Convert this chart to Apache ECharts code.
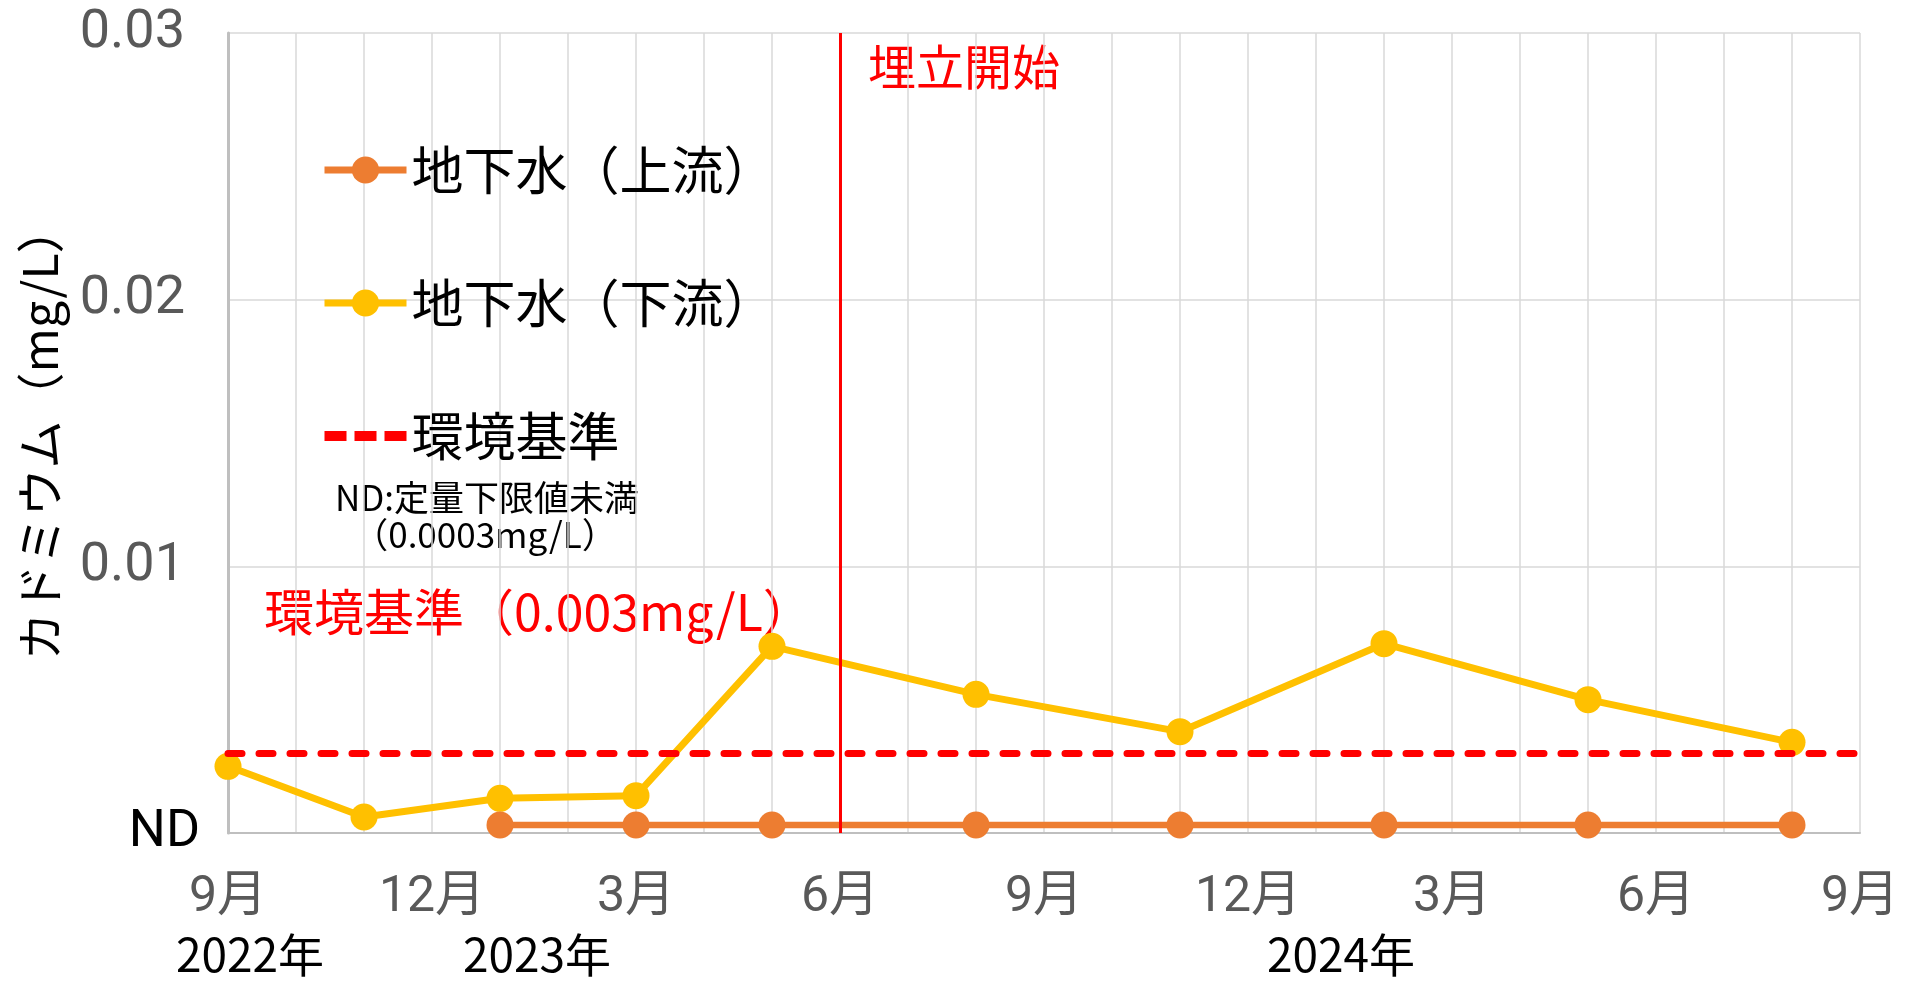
<!DOCTYPE html>
<html>
<head>
<meta charset="utf-8">
<script src="https://cdn.jsdelivr.net/npm/echarts@6/dist/echarts.min.js"></script>
<style>
  html, body { margin: 0; padding: 0; background: #fff; }
  #chart { width: 1912px; height: 984px; }
</style>
</head>
<body>
<div id="chart"></div>
<script>
// 月（2022年9月〜2024年9月）
const months = [
  '2022-09', '2022-10', '2022-11', '2022-12',
  '2023-01', '2023-02', '2023-03', '2023-04', '2023-05', '2023-06',
  '2023-07', '2023-08', '2023-09', '2023-10', '2023-11', '2023-12',
  '2024-01', '2024-02', '2024-03', '2024-04', '2024-05', '2024-06',
  '2024-07', '2024-08', '2024-09'
];

// 地下水（上流）: ND (0.0003)
const upstreamDates = ['2023-01', '2023-03', '2023-05', '2023-08', '2023-11', '2024-02', '2024-05', '2024-08'];
const upstreamValues = [0.0003, 0.0003, 0.0003, 0.0003, 0.0003, 0.0003, 0.0003, 0.0003];

// 地下水（下流）
const downstreamDates = ['2022-09', '2022-11', '2023-01', '2023-03', '2023-05', '2023-08', '2023-11', '2024-02', '2024-05', '2024-08'];
const downstreamValues = [0.0025, 0.0006, 0.0013, 0.0014, 0.0070, 0.0052, 0.0038, 0.0071, 0.0050, 0.0034];

const standardValue = 0.003;      // 環境基準
const landfillStart = '2023-06';  // 埋立開始
const yTicks = [0, 0.01, 0.02, 0.03];

const years = ['2022年', '2023年', '2024年'];

const jp = 'Noto Sans CJK JP';
const narrow = "Roboto, 'Noto Sans CJK JP'";
const dashLine = { color: '#ff0000', width: 7, type: [14, 17], cap: 'round' };

function pairs(dates, values) {
  return dates.map((d, i) => [d, values[i]]);
}

function note(text, x, y, size, color, align) {
  return {
    type: 'text', x: x, y: y,
    style: {
      text: text, fill: color, font: size + 'px "Noto Sans CJK JP"',
      textAlign: align, align: align, textVerticalAlign: 'middle', verticalAlign: 'middle'
    }
  };
}

const option = {
  animation: false,
  backgroundColor: '#fff',
  grid: { left: 228, top: 33, right: 52, bottom: 151, containLabel: false, outerBoundsMode: 'none' },
  legend: {
    orient: 'vertical',
    left: 316,
    top: 139,
    itemWidth: 82,
    itemHeight: 34,
    itemGap: 81,
    selectedMode: false,
    lineStyle: { width: 7 },
    textStyle: { fontSize: 52, color: '#000', fontFamily: jp },
    data: [
      '地下水（上流）',
      '地下水（下流）',
      { name: '環境基準', icon: 'path://M0,12h22v10h-22z M30,12h22v10h-22z M60,12h22v10h-22z' }
    ]
  },
  xAxis: {
    type: 'category',
    boundaryGap: false,
    data: months,
    axisTick: { show: false },
    axisLine: { lineStyle: { color: '#bfbfbf', width: 2 } },
    axisLabel: {
      interval: 2,
      margin: 40,
      color: '#595959',
      fontSize: 50,
      fontFamily: narrow,
      formatter: v => parseInt(v.slice(5), 10) + '月'
    },
    splitLine: { show: true, interval: 0, lineStyle: { color: '#d9d9d9', width: 1.5 } }
  },
  yAxis: {
    type: 'value',
    min: yTicks[0],
    max: yTicks[yTicks.length - 1],
    interval: yTicks[1] - yTicks[0],
    name: 'カドミウム（mg/L）',
    nameLocation: 'middle',
    nameRotate: 90,
    nameGap: 164,
    nameTextStyle: { fontSize: 48, color: '#000', fontFamily: jp },
    axisLine: { show: true, lineStyle: { color: '#bfbfbf', width: 3 } },
    axisTick: { show: false },
    splitLine: { lineStyle: { color: '#d9d9d9', width: 1.5 } },
    axisLabel: {
      margin: 28,
      formatter: v => v === 0 ? '{nd|ND}' : '{num|' + v.toFixed(2) + '}',
      rich: {
        nd: { color: '#000', fontSize: 52, fontFamily: narrow },
        num: { color: '#595959', fontSize: 54, fontFamily: narrow, padding: [0, 15, 0, 0] }
      }
    }
  },
  series: [
    {
      name: '環境基準',
      type: 'line',
      data: [],
      symbol: 'none',
      silent: true,
      lineStyle: dashLine,
      itemStyle: { color: '#ff0000' }
    },
    {
      name: '地下水（下流）',
      type: 'line',
      data: pairs(downstreamDates, downstreamValues),
      symbol: 'circle',
      symbolSize: 27,
      lineStyle: { color: '#ffc000', width: 7 },
      itemStyle: { color: '#ffc000' },
      emphasis: { disabled: true },
      markLine: {
        silent: true,
        symbol: 'none',
        precision: 4,
        label: { show: false },
        data: [
          { yAxis: standardValue, lineStyle: dashLine },
          { xAxis: landfillStart, lineStyle: { color: '#ff0000', width: 3, type: 'solid' } }
        ]
      }
    },
    {
      name: '地下水（上流）',
      type: 'line',
      data: pairs(upstreamDates, upstreamValues),
      symbol: 'circle',
      symbolSize: 27,
      lineStyle: { color: '#ed7d31', width: 6.5 },
      itemStyle: { color: '#ed7d31' },
      emphasis: { disabled: true }
    }
  ],
  graphic: [
    note('埋立開始', 868, 67, 48, '#ff0000', 'left'),
    note('環境基準（0.003mg/L）', 264, 612, 50, '#ff0000', 'left'),
    note('ND:定量下限値未満', 487, 498, 35, '#000', 'center'),
    note('（0.0003mg/L）', 485, 535, 35, '#000', 'center'),
    note(years[0], 250, 955, 46, '#000', 'center'),
    note(years[1], 537, 955, 46, '#000', 'center'),
    note(years[2], 1341, 955, 46, '#000', 'center')
  ]
};

const chart = echarts.init(document.getElementById('chart'));
chart.setOption(option);
</script>
</body>
</html>
